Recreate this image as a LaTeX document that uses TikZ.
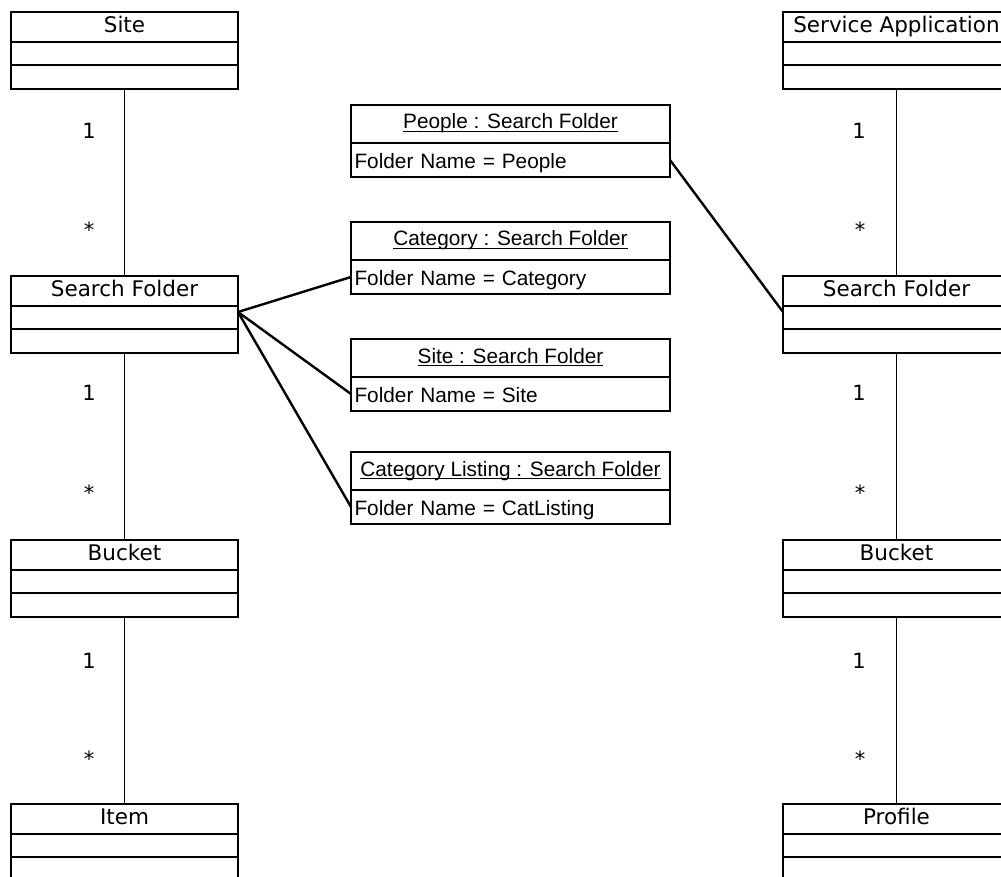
\documentclass[tikz,border=0pt]{standalone}
\usepackage{fontspec}
\newfontfamily\classfont{DejaVu Sans}
\newfontfamily\objfont{Liberation Sans}
\newcommand\objul[1]{\setbox0\hbox{#1}\rlap{\rule[-3.2pt]{\wd0}{1.1pt}}\box0}
\begin{document}
\begin{tikzpicture}[x=1pt,y=-1pt,
  ctitle/.style={draw, line width=1.6pt, minimum width=227pt, minimum height=30pt,
    inner sep=0pt, outer sep=0pt, text height=15.5pt, text depth=4pt, anchor=north,
    font=\classfont\fontsize{21.5}{26}\selectfont},
  ccompa/.style={draw, line width=1.6pt, minimum width=227pt, minimum height=23pt,
    inner sep=0pt, outer sep=0pt, anchor=north},
  ccompb/.style={ccompa, minimum height=24pt},
  otitle/.style={draw, line width=1.6pt, minimum width=319pt, minimum height=38pt,
    inner sep=0pt, outer sep=0pt, text height=15pt, text depth=5pt, anchor=north,
    font=\objfont\fontsize{20.8}{24}\selectfont},
  oattr/.style={draw, line width=1.6pt, minimum width=319pt, minimum height=34pt,
    text width=312pt, inner xsep=3.5pt, inner ysep=0pt, outer sep=0pt, align=left,
    text height=17pt, text depth=0pt, anchor=north,
    font=\objfont\fontsize{20.8}{24}\selectfont},
  mult/.style={font=\classfont\fontsize{21}{26}\selectfont, inner sep=0pt},
  thinlink/.style={line width=1pt},
  assoc/.style={line width=2.4pt}]
\useasboundingbox (0,0) rectangle (1001,877);
\clip (0,0) rectangle (1001,877);

% ---- left column classes ----
\node[ctitle] (site) at (124.5,12) {Site};
\node[ccompa] (site-a1) at (site.south) {};
\node[ccompb] (site-a2) at (site-a1.south) {};

\node[ctitle] (sf) at (124.5,276) {Search Folder};
\node[ccompa] (sf-a1) at (sf.south) {};
\node[ccompb] (sf-a2) at (sf-a1.south) {};

\node[ctitle] (bucket) at (124.5,540) {Bucket};
\node[ccompa] (bucket-a1) at (bucket.south) {};
\node[ccompb] (bucket-a2) at (bucket-a1.south) {};

\node[ctitle] (item) at (124.5,804) {Item};
\node[ccompa] (item-a1) at (item.south) {};
\node[ccompb] (item-a2) at (item-a1.south) {};

% ---- right column classes ----
\node[ctitle] (sa) at (896.5,12) {Service Application};
\node[ccompa] (sa-a1) at (sa.south) {};
\node[ccompb] (sa-a2) at (sa-a1.south) {};

\node[ctitle] (rsf) at (896.5,276) {Search Folder};
\node[ccompa] (rsf-a1) at (rsf.south) {};
\node[ccompb] (rsf-a2) at (rsf-a1.south) {};

\node[ctitle] (rbucket) at (896.5,540) {Bucket};
\node[ccompa] (rbucket-a1) at (rbucket.south) {};
\node[ccompb] (rbucket-a2) at (rbucket-a1.south) {};

\node[ctitle] (profile) at (896.5,804) {Profile};
\node[ccompa] (profile-a1) at (profile.south) {};
\node[ccompb] (profile-a2) at (profile-a1.south) {};

% ---- object instances ----
\node[otitle] (ppl) at (510.5,105) {\objul{People : Search Folder}};
\node[oattr] (ppl-a) at (ppl.south) {Folder Name = People};

\node[otitle] (cat) at (510.5,222) {\objul{Category : Search Folder}};
\node[oattr] (cat-a) at (cat.south) {Folder Name = Category};

\node[otitle] (sitef) at (510.5,339) {\objul{Site : Search Folder}};
\node[oattr] (sitef-a) at (sitef.south) {Folder Name = Site};

\node[otitle] (cl) at (510.5,452) {\objul{Category Listing : Search Folder}};
\node[oattr] (cl-a) at (cl.south) {Folder Name = CatListing};

% ---- class associations ----
\draw[thinlink] (site-a2.south) -- (sf.north);
\draw[thinlink] (sf-a2.south) -- (bucket.north);
\draw[thinlink] (bucket-a2.south) -- (item.north);
\draw[thinlink] (sa-a2.south) -- (rsf.north);
\draw[thinlink] (rsf-a2.south) -- (rbucket.north);
\draw[thinlink] (rbucket-a2.south) -- (profile.north);

\node[mult] (m1) at (89,131) {1};
\node[mult] (m2) at (89,230) {*};
\node[mult] (m3) at (89,393) {1};
\node[mult] (m4) at (89,493) {*};
\node[mult] (m5) at (89,661) {1};
\node[mult] (m6) at (89,759) {*};

\node[mult] (r1) at (859,131) {1};
\node[mult] (r2) at (860,230) {*};
\node[mult] (r3) at (859,393) {1};
\node[mult] (r4) at (860,493) {*};
\node[mult] (r5) at (859,661) {1};
\node[mult] (r6) at (860,759) {*};

% ---- instance links ----
\coordinate (lj) at ([yshift=-6pt]sf-a1.north east);
\coordinate (rj) at ([yshift=-6pt]rsf-a1.north west);
\draw[assoc] (lj) -- (cat-a.west);
\draw[assoc] (lj) -- (sitef-a.west);
\draw[assoc] (lj) -- (cl-a.west);
\draw[assoc] (ppl-a.east) -- (rj);
\end{tikzpicture}
\end{document}
